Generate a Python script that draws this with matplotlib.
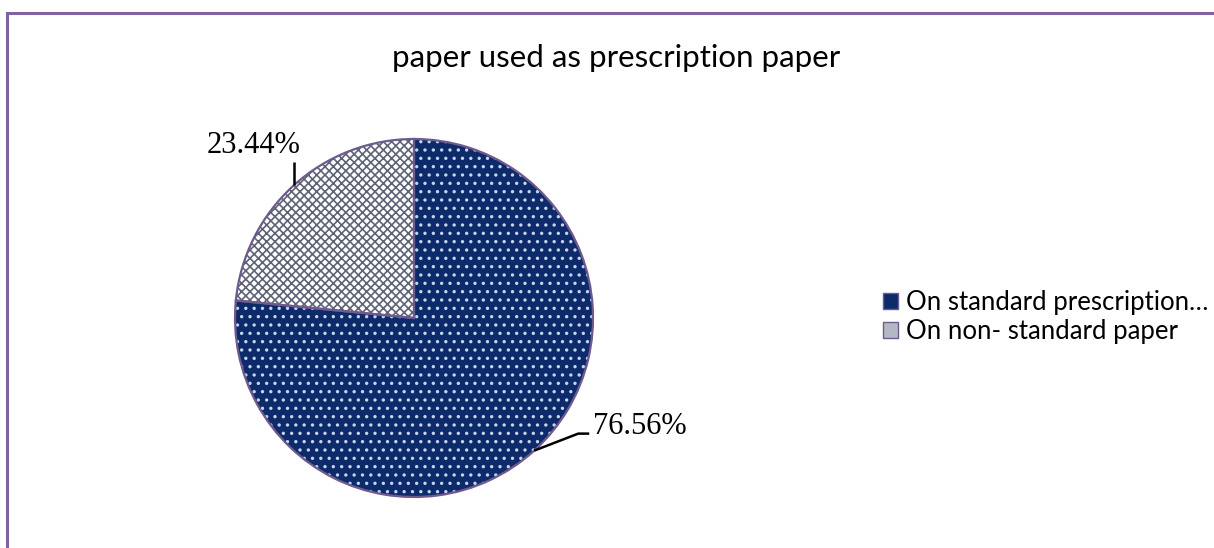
import matplotlib
matplotlib.use("Agg")
import numpy as np
import matplotlib.pyplot as plt
from matplotlib.patches import Rectangle, Patch

title = "paper used as prescription paper"
categories = ["On standard prescription\u2026", "On non- standard paper"]
values = [76.56, 23.44]
labels = ["76.56%", "23.44%"]

face_colors = ["#0D2A6A", "#FFFFFF"]
hatch_colors = ["#C8D4EC", "#5E6476"]
hatches = ["..", "xxxx"]
edge_color = "#6E5A8E"

W, H = 1214, 548
fig = plt.figure(figsize=(W / 100, H / 100), dpi=100)

# frame
fig.patches.append(Rectangle((7 / W, -0.05), (W + 10) / W, (H - 13) / H + 0.05,
                             transform=fig.transFigure, fill=False,
                             edgecolor="#8064A2", linewidth=2.2))

cx, cy, r = 414, 318, 179
ax = fig.add_axes([(cx - r) / W, (H - cy - r) / H, 2 * r / W, 2 * r / H])
ax.set_aspect("equal")
ax.axis("off")

plt.rcParams["hatch.linewidth"] = 1.2
wedges, _ = ax.pie(values, startangle=90, counterclock=False, radius=1.0,
                   colors=face_colors)
for w, hc, h in zip(wedges, hatch_colors, hatches):
    w.set_hatch(h)
    w.set_edgecolor(hc)
    w.set_linewidth(0)
ax.pie(values, startangle=90, counterclock=False, radius=1.0,
       wedgeprops=dict(fill=False, edgecolor=edge_color, linewidth=1.6))
ax.set_xlim(-1.0, 1.0)
ax.set_ylim(-1.0, 1.0)

# leader lines and labels
for w, lab in zip(wedges, labels):
    ang = np.deg2rad((w.theta1 + w.theta2) / 2)
    x0, y0 = np.cos(ang), np.sin(ang)
    if x0 > 0:
        xm, ym = x0 + 44 / r, y0 + 17 / r
        xe = xm + 11 / r
        ax.plot([x0, xm, xe], [y0, ym, ym], color="black", lw=1.8,
                solid_capstyle="butt")
        ax.text(xe + 4 / r, ym, lab, fontsize=22, family="Liberation Serif",
                ha="left", va="baseline")
    else:
        ye = y0 + 23 / r
        ax.plot([x0, x0], [y0, ye], color="black", lw=1.8,
                solid_capstyle="butt")
        ax.text(x0 - 40 / r, ye + 9 / r, lab, fontsize=22,
                family="Liberation Serif", ha="center", va="baseline")

fig.text(616 / W, 1 - 58 / H, title, ha="center", va="center",
         fontsize=22.5, family="Lato")

# legend
handles = [Patch(facecolor=face_colors[0], edgecolor=edge_color, lw=1.0),
           Patch(facecolor="#B4B8C4", edgecolor=edge_color, lw=1.0)]
leg = fig.legend(handles, categories, loc="center left",
                 bbox_to_anchor=(862 / W, 1 - 317 / H), frameon=False,
                 handlelength=0.6, handleheight=0.6, handletextpad=0.3,
                 labelspacing=0.15, borderpad=0.3,
                 prop=dict(family="Lato", size=18.5))

fig.savefig("out.png", dpi=100)
